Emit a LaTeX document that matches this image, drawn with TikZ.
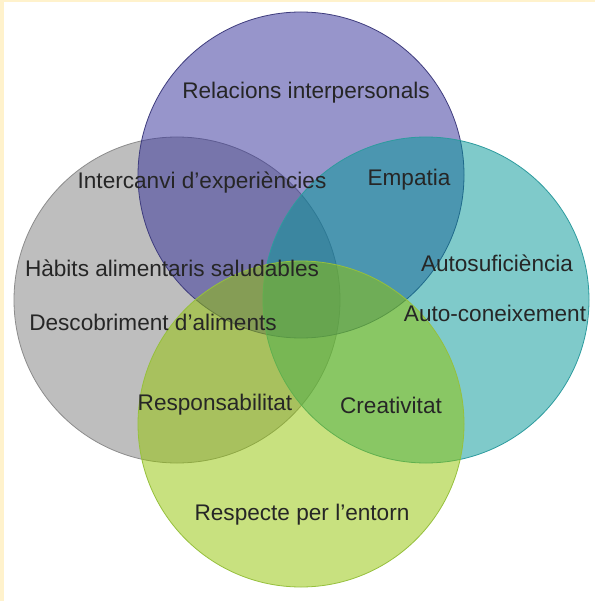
\documentclass[tikz,border=0pt]{standalone}
\usepackage{fontspec}
\setmainfont{Liberation Sans}
\usepackage{xcolor}
\usepackage{tikz}

\definecolor{frame}{RGB}{255,242,204}
\definecolor{vpurple}{RGB}{49,45,153}
\definecolor{vpurpleline}{RGB}{62,60,125}
\definecolor{vgray}{RGB}{127,127,127}
\definecolor{vgrayline}{RGB}{140,140,140}
\definecolor{vteal}{RGB}{0,151,151}
\definecolor{vtealline}{RGB}{45,155,158}
\definecolor{vgreen}{RGB}{147,197,0}
\definecolor{vgreenline}{RGB}{150,192,60}

\begin{document}
\begin{tikzpicture}[
        x=1pt, y=-1pt,
        venn/.style={circle, draw, line width=0.8pt, fill opacity=0.5, minimum size=326pt, inner sep=0pt},
        lbl/.style={text=black!85, font=\fontsize{22.6}{26}\selectfont, inner sep=0pt}
    ]
        \useasboundingbox (0,0) rectangle (595,601);
        \fill[frame] (0,0) rectangle (595,601);
        \fill[white] (4,2) rectangle (595,601);

        \node[venn, fill=vgray, draw=vgrayline] (habits) at (177,300) {};
        \node[venn, fill=vpurple, draw=vpurpleline] (relacions) at (301,175) {};
        \node[venn, fill=vteal, draw=vtealline] (autosuf) at (426,300) {};
        \node[venn, fill=vgreen, draw=vgreenline] (respecte) at (301,424) {};

        \node[lbl] (trel) at (306,93) {Relacions interpersonals};
        \node[lbl] (tinter) at (202,183) {Intercanvi d’experiències};
        \node[lbl] (temp) at (409,180) {Empatia};
        \node[lbl] (thab) at (172,268) {Hàbits alimentaris saludables};
        \node[lbl] (taut) at (497,263) {Autosuficiència};
        \node[lbl] (tdesc) at (153,322) {Descobriment d’aliments};
        \node[lbl] (tcon) at (495,313) {Auto-coneixement};
        \node[lbl] (tresp) at (215,405) {Responsabilitat};
        \node[lbl] (tcrea) at (391,405) {Creativitat};
        \node[lbl] (tent) at (302,515) {Respecte per l’entorn};
    \end{tikzpicture}
\end{document}
